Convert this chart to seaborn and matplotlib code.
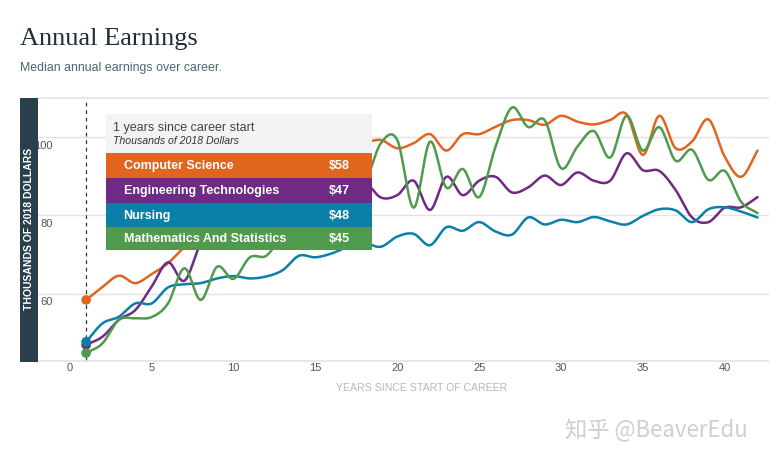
import numpy as np
import pandas as pd
import seaborn as sns
import matplotlib
matplotlib.use("Agg")
import matplotlib.pyplot as plt
from matplotlib.patches import Rectangle
from matplotlib.transforms import ScaledTranslation

years = list(range(1, 43))
computer_science = [58.4, 61.7, 64.6, 62.7, 65, 67.8, 72, 76, 82, 85, 87, 89, 91, 93, 94, 95, 97, 98.5,
                    99.3, 97.2, 98.5, 100.8, 96.6, 100.8, 100.8, 102.7, 104.4, 104.4, 103.2, 105.5, 104,
                    103.3, 104.4, 105.9, 95.5, 105.5, 97.2, 98.9, 104.6, 95, 89.9, 96.6]
engineering_tech = [46.9, 49, 53.3, 55.8, 61.8, 68, 63.3, 72.9, 78, 80, 82, 84, 85, 86, 87, 87, 88, 88.6,
                    84.6, 85.2, 88.9, 81.4, 89.9, 85.2, 88.9, 89.9, 85.9, 87.2, 90.2, 87.8, 91,
                    88.9, 88.9, 95.9, 91.6, 91.4, 86.5, 79.5, 78.3, 82, 82.1, 84.7]
nursing = [47.7, 52.4, 54.1, 57.5, 57.5, 61.6, 62.4, 62.7, 63.9, 64.5, 63.9, 64.4, 66, 69.7, 69.3, 70.3, 72, 72.9,
           72, 74.6, 75.3, 72.4, 77, 76.1, 78.3, 75.9, 75.1, 79.5, 77.7, 78.9, 78.3,
           79.6, 78.5, 77.7, 79.9, 81.6, 81.3, 78.3, 81.6, 82.1, 81, 79.5]
math_stats = [44.8, 47.3, 53.3, 53.7, 54, 57.5, 66.5, 58.4, 66.9, 63.8, 69.3, 69.7, 75, 78, 74, 80, 84, 88,
              98.5, 99.3, 82, 98.9, 87.1, 91.9, 84.7, 97.6, 107.6, 102.6, 104.4, 92.1, 97.6,
              101.6, 94.8, 105.5, 96.6, 102.6, 94, 96.8, 89.1, 91.4, 83.5, 80.6]
series_names = ["Computer Science", "Engineering Technologies", "Nursing", "Mathematics And Statistics"]
series_values = [computer_science, engineering_tech, nursing, math_stats]
tooltip_values = ["$58", "$47", "$48", "$45"]
colors = ["#E0651F", "#6F2A86", "#0A7FA8", "#4F9A4C"]

W, H = 769, 462
sns.set_theme(style="white")
plt.rcParams["font.family"] = ["Liberation Sans", "DejaVu Sans"]
fig = plt.figure(figsize=(W / 100, H / 100), dpi=100, facecolor="white")
ax = fig.add_axes([37 / W, 1 - 361.3 / H, (W - 37) / W, (361.3 - 98.2) / H])


def smooth(x, y, n=16):
    """Catmull-Rom rendering of the drawn curve through the read values."""
    x, y = np.asarray(x, float), np.asarray(y, float)
    m = np.gradient(y, x)
    t = np.linspace(0, 1, n, endpoint=False)[:, None]
    h00 = 2 * t**3 - 3 * t**2 + 1
    h10 = t**3 - 2 * t**2 + t
    h01 = -2 * t**3 + 3 * t**2
    h11 = t**3 - t**2
    ys = h00 * y[:-1] + h10 * m[:-1] + h01 * y[1:] + h11 * m[1:]
    xs = x[:-1] + t * np.diff(x)
    return np.r_[xs.T.ravel(), x[-1]], np.r_[ys.T.ravel(), y[-1]]


frames = []
for name, vals in zip(series_names, series_values):
    sx, sy = smooth(years, vals)
    frames.append(pd.DataFrame({"year": sx, "value": sy, "series": name}))
df = pd.concat(frames, ignore_index=True)
sns.lineplot(data=df, x="year", y="value", hue="series", hue_order=series_names,
             palette=colors, linewidth=1.8, legend=False, ax=ax, zorder=3, sort=False)

first = pd.DataFrame({"year": [years[0]] * 4, "value": [v[0] for v in series_values], "series": series_names})
sns.scatterplot(data=first, x="year", y="value", hue="series", hue_order=series_names,
                palette=colors, s=48, linewidth=0, legend=False, ax=ax, zorder=4)

ax.set_xlim(-2, 42.7)
ax.set_ylim(42.7, 110)
ax.set_xticks([0, 5, 10, 15, 20, 25, 30, 35, 40])
ax.set_yticks([60, 80, 100])
ax.grid(axis="y", color="#e3e3e3", linewidth=1)
ax.set_axisbelow(True)
for s in ["left", "right"]:
    ax.spines[s].set_visible(False)
for s in ["top", "bottom"]:
    ax.spines[s].set_color("#e3e3e3")
    ax.spines[s].set_linewidth(1.2)
ax.axvline(1, color="#333333", linewidth=0.9, dashes=(3, 3), zorder=2)
ax.tick_params(axis="x", length=0, pad=1.5, labelsize=8, labelcolor="#555555")
ax.tick_params(axis="y", length=0, pad=-11.5, labelsize=8, labelcolor="#555555")
off = ScaledTranslation(0, -7.5 / 100, fig.dpi_scale_trans)
for lab in ax.get_yticklabels():
    lab.set_transform(lab.get_transform() + off)
ax.set_xlabel("YEARS SINCE START OF CAREER", fontsize=7.6, color="#b8b8b8", labelpad=7, x=0.525)
ax.set_ylabel("")


def px_rect(x0, y0, x1, y1, color, z=6):
    fig.add_artist(Rectangle((x0 / W, 1 - y1 / H), (x1 - x0) / W, (y1 - y0) / H,
                             transform=fig.transFigure, facecolor=color, edgecolor="none", zorder=z))


def px_text(x, y, s, **kw):
    kw.setdefault("zorder", 7)
    fig.text(x / W, 1 - y / H, s, **kw)


px_rect(20, 98, 37.5, 361.5, "#2A3F4C")
px_text(29, 229, "THOUSANDS OF 2018 DOLLARS", rotation=90, ha="center", va="center",
        color="white", fontsize=7.5, fontweight="bold")

px_text(20, 38.5, "Annual Earnings", fontsize=19, family="Liberation Serif", color="#1f2d3a", va="center")
px_text(20, 68.5, "Median annual earnings over career.", fontsize=8.9, color="#4f6470", va="center")

px_rect(106, 114, 372, 153, "#f3f3f3")
px_text(113, 127.5, "1 years since career start", fontsize=9, color="#444444", va="center")
px_text(113, 140.5, "Thousands of 2018 Dollars", fontsize=7.6, style="italic", color="#333333", va="center")
edges = [153, 177.5, 202.5, 227, 250]
for i, (name, val, c) in enumerate(zip(series_names, tooltip_values, colors)):
    px_rect(106, edges[i], 372, edges[i + 1], c)
    ym = (edges[i] + edges[i + 1]) / 2 + 1
    px_text(123.5, ym, name, fontsize=9, fontweight="bold", color="white", va="center")
    px_text(350, ym, val, fontsize=9, fontweight="bold", color="white", va="center", ha="right")

px_text(565, 431, "知乎 @BeaverEdu", fontsize=16, color="#cfcfcf", va="center",
        family=["Noto Sans CJK SC", "DejaVu Sans"])

fig.savefig("out.png", dpi=100)
